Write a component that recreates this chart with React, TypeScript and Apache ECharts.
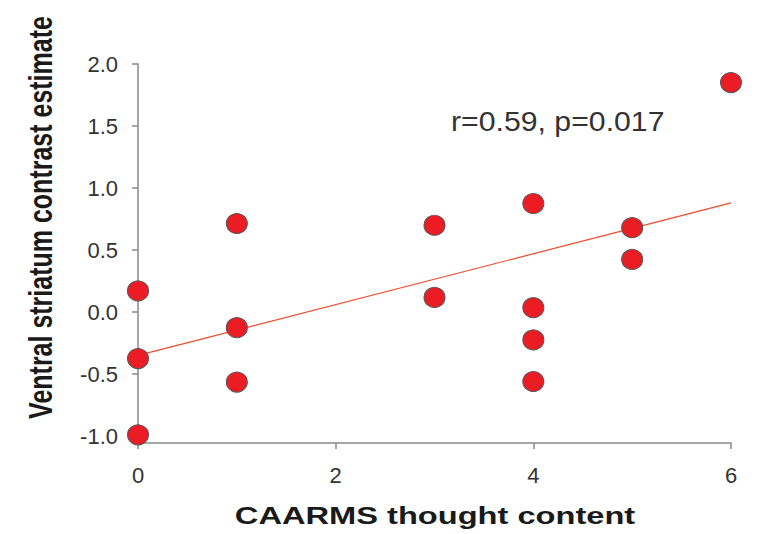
import React, { useEffect, useRef } from "react";
import * as echarts from "echarts";

const xVals = [0, 0, 0, 1, 1, 1, 3, 3, 4, 4, 4, 4, 5, 5, 6];
const yVals = [0.17, -0.375, -0.99, 0.714, -0.126, -0.565, 0.70, 0.118, 0.875, 0.035, -0.225, -0.56, 0.68, 0.424, 1.85];
const fitX = [0, 6];
const fitY = [-0.35, 0.88];
const yTicks = [-1.0, -0.5, 0.0, 0.5, 1.0, 1.5, 2.0];
const xTitle = "CAARMS thought content";
const yTitle = "Ventral striatum contrast estimate";
const statText = "r=0.59, p=0.017";

export default function App() {
  const ref = useRef<HTMLDivElement>(null);
  useEffect(() => {
    if (!ref.current) return;
    const chart = echarts.init(ref.current, null, { renderer: "svg" });
    const points = xVals.map((x, i) => [x, yVals[i]]);
    const fit = fitX.map((x, i) => [x, fitY[i]]);
    const axisColor = "#8a8a8a";
    chart.setOption({
      animation: false,
      backgroundColor: "#ffffff",
      grid: { left: 138, right: 27, top: 64, bottom: 91 },
      xAxis: {
        type: "value",
        min: 0,
        max: 6,
        interval: 2,
        splitLine: { show: false },
        axisLine: { show: true, onZero: false, lineStyle: { color: axisColor, width: 1.5 } },
        axisTick: { show: true, length: 6, lineStyle: { color: axisColor, width: 1.5 } },
        axisLabel: {
          margin: 21,
          fontSize: 22,
          color: "#333333",
          fontFamily: "Liberation Sans, Arial, sans-serif",
        },
      },
      yAxis: {
        type: "value",
        min: -1.056,
        max: 2.0,
        splitLine: { show: false },
        axisLine: { show: true, onZero: false, lineStyle: { color: axisColor, width: 1.5 } },
        axisTick: {
          show: true,
          length: 6,
          customValues: yTicks,
          lineStyle: { color: axisColor, width: 1.5 },
        },
        axisLabel: {
          margin: 20,
          fontSize: 22,
          color: "#333333",
          fontFamily: "Liberation Sans, Arial, sans-serif",
          customValues: yTicks,
          formatter: (v: number) => v.toFixed(1),
        },
      },
      series: [
        {
          type: "line",
          data: fit,
          symbol: "none",
          lineStyle: { color: "#f24a2a", width: 1.2 },
          silent: true,
          z: 1,
        },
        {
          type: "scatter",
          data: points,
          symbol: "circle",
          symbolSize: [21, 20],
          itemStyle: { color: "#ec1c24", borderColor: "#555555", borderWidth: 1, opacity: 1 },
          z: 2,
        },
      ],
      graphic: [
        {
          type: "text",
          x: 41,
          y: 217.5,
          rotation: Math.PI / 2,
          scaleY: 1.3,
          style: {
            text: yTitle,
            fontSize: 25,
            fontWeight: "bold",
            fontFamily: "Liberation Sans, Arial, sans-serif",
            fill: "#1a1a1a",
            align: "center",
            verticalAlign: "middle",
          },
        },
        {
          type: "text",
          x: 435,
          y: 516,
          scaleX: 1.36,
          style: {
            text: xTitle,
            fontSize: 24,
            fontWeight: "bold",
            fontFamily: "Liberation Sans, Arial, sans-serif",
            fill: "#1a1a1a",
            align: "center",
            verticalAlign: "middle",
          },
        },
        {
          type: "text",
          x: 451,
          y: 121.5,
          scaleX: 1.12,
          style: {
            text: statText,
            fontSize: 27,
            fontFamily: "Liberation Sans, Arial, sans-serif",
            fill: "#333333",
            align: "left",
            verticalAlign: "middle",
          },
        },
      ],
    });
    return () => chart.dispose();
  }, []);
  return (
    <div
      ref={ref}
      style={{ position: "fixed", left: 0, top: 0, width: 758, height: 534, background: "#fff" }}
    />
  );
}
